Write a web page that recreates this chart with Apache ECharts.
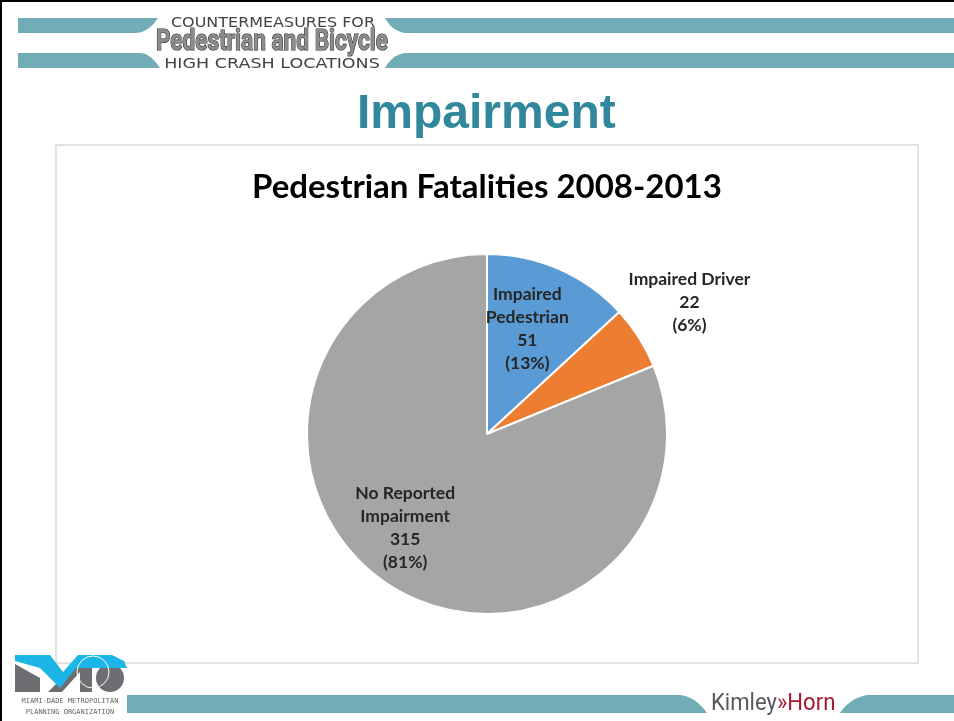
<!DOCTYPE html>
<html lang="en">
<head>
    <meta charset="UTF-8">
    <title>Impairment</title>
    <style>
        html, body {
            margin: 0;
            padding: 0;
            background: #fff;
        }

        #main {
            width: 954px;
            height: 721px;
        }
    </style>
</head>
<body>
<div id="main"></div>
<script src="https://cdn.jsdelivr.net/npm/echarts@6/dist/echarts.min.js"></script>
<script>
    // pie data, clockwise from 12 o'clock
    let categories = ['Impaired\nPedestrian', 'Impaired Driver', 'No Reported\nImpairment']
    let values = [51, 22, 315]
    let colors = ['#5b9bd5', '#ed7d31', '#a5a5a5']
    // label nudges from the default inside spot
    let labelShift = [[3, -20], [124, -82], [-30, 17]]

    const teal = '#72adb7'

    // straight points plus one quadratic curve, turned into a polygon outline
    function bar(before, p0, c, p1, after) {
        let pts = before.slice()
        for (let t = 0; t <= 1.0001; t += 0.1) {
            let u = 1 - t
            pts.push([u * u * p0[0] + 2 * u * t * c[0] + t * t * p1[0],
                u * u * p0[1] + 2 * u * t * c[1] + t * t * p1[1]])
        }
        return pts.concat(after)
    }

    let myChart = echarts.init(document.querySelector('#main'))

    let option = {
        animation: false,
        title: [
            {
                text: 'Impairment',
                left: 352,
                top: 86,
                textStyle: {
                    fontFamily: 'Liberation Sans',
                    fontWeight: 'bold',
                    fontSize: 48,
                    color: '#31879b'
                }
            },
            {
                text: 'Pedestrian Fatalities 2008-2013',
                left: 247,
                top: 166,
                textStyle: {
                    fontFamily: 'Lato',
                    fontWeight: 'bold',
                    fontSize: 33,
                    color: '#000'
                }
            }
        ],
        graphic: [
            // slide frame
            {type: 'rect', shape: {x: 0, y: 0, width: 954, height: 2}, style: {fill: '#000'}, z: 10},
            {type: 'rect', shape: {x: 0, y: 0, width: 2, height: 721}, style: {fill: '#000'}, z: 10},
            // chart box
            {
                type: 'rect', z: -10,
                shape: {x: 56, y: 145, width: 862, height: 518},
                style: {fill: '#fff', stroke: '#d9d9d9', lineWidth: 1.5}
            },
            // header bars
            {
                type: 'polygon',
                shape: {points: bar([[18, 18]], [158, 18], [148, 33], [135, 33], [[18, 33]])},
                style: {fill: teal}
            },
            {
                type: 'polygon',
                shape: {points: bar([[18, 53]], [140, 53], [150, 53], [160, 68], [[18, 68]])},
                style: {fill: teal}
            },
            {
                type: 'polygon',
                shape: {points: bar([[954, 18], [954, 33]], [405, 33], [392, 31], [385, 18], [])},
                style: {fill: teal}
            },
            {
                type: 'polygon',
                shape: {points: bar([[954, 68], [954, 53]], [405, 53], [392, 55], [385, 68], [])},
                style: {fill: teal}
            },
            {
                type: 'text', x: 273, y: 23, scaleX: 1.14,
                style: {
                    text: 'COUNTERMEASURES FOR', fill: '#444', font: '14px "DejaVu Sans"',
                    textAlign: 'center', textVerticalAlign: 'middle'
                }
            },
            {
                type: 'text', x: 272, y: 43, scaleX: 0.78,
                style: {
                    text: 'Pedestrian and Bicycle', fill: '#8c8c8c', stroke: '#2b2b2b', lineWidth: 1.2,
                    font: 'bold 29px Roboto',
                    textAlign: 'center', textVerticalAlign: 'middle'
                }
            },
            {
                type: 'text', x: 272, y: 64, scaleX: 1.25,
                style: {
                    text: 'HIGH CRASH LOCATIONS', fill: '#444', font: '14px "DejaVu Sans"',
                    textAlign: 'center', textVerticalAlign: 'middle'
                }
            },
            // footer bars
            {
                type: 'polygon',
                shape: {points: bar([[127, 713], [127, 695]], [680, 695], [696, 697], [707, 713], [])},
                style: {fill: teal}
            },
            {
                type: 'polygon',
                shape: {points: bar([[954, 713], [954, 695]], [867, 695], [850, 698], [840, 713], [])},
                style: {fill: teal}
            },
            {
                type: 'text', x: 711, y: 704, scaleX: 0.92,
                style: {
                    text: '{k|Kimley}{h|»Horn}', textVerticalAlign: 'middle',
                    rich: {
                        k: {fill: '#58595b', font: '24px Roboto'},
                        h: {fill: '#a6192e', font: '24px Roboto'}
                    }
                }
            },
            // MPO logo
            {
                type: 'polygon', z: 2,
                shape: {points: [[15, 664], [40, 678], [40, 692], [15, 692]]},
                style: {fill: '#6d6e71'}
            },
            {
                type: 'polygon', z: 2,
                shape: {points: [[48, 692], [62, 692], [80, 672], [80, 692], [92, 692], [92, 668], [72, 668]]},
                style: {fill: '#6d6e71'}
            },
            {
                type: 'circle', z: 2,
                shape: {cx: 110, cy: 678, r: 14},
                style: {fill: '#6d6e71'}
            },
            {
                type: 'polygon', z: 3,
                shape: {points: [[15, 655], [50, 655], [63, 672], [78, 655], [112, 655], [124, 661], [127, 668], [76, 668], [60, 688], [40, 668], [15, 661]]},
                style: {fill: '#1cb5e8'}
            },
            {
                type: 'circle', z: 4,
                shape: {cx: 93, cy: 672, r: 16},
                style: {fill: 'none', stroke: '#fff', lineWidth: 1}
            },
            {
                type: 'text', x: 70, y: 701,
                style: {
                    text: 'MIAMI-DADE METROPOLITAN', fill: '#666', font: '7px "DejaVu Sans Mono"',
                    textAlign: 'center', textVerticalAlign: 'middle'
                }
            },
            {
                type: 'text', x: 70, y: 712,
                style: {
                    text: 'PLANNING ORGANIZATION', fill: '#666', font: '7px "DejaVu Sans Mono"',
                    textAlign: 'center', textVerticalAlign: 'middle'
                }
            }
        ],
        series: [
            {
                type: 'pie',
                center: [487, 434],
                radius: [0, 180],
                startAngle: 90,
                clockwise: true,
                percentPrecision: 0,
                itemStyle: {
                    borderColor: '#fff',
                    borderWidth: 2
                },
                label: {
                    show: true,
                    position: 'inside',
                    formatter: '{b}\n{c}\n({d}%)',
                    fontFamily: 'Lato',
                    fontWeight: 'bold',
                    fontSize: 17.5,
                    lineHeight: 23,
                    color: '#262626',
                    align: 'center'
                },
                labelLine: {show: false},
                labelLayout: function (params) {
                    let s = labelShift[params.dataIndex]
                    return {dx: s[0], dy: s[1]}
                },
                emphasis: {disabled: true},
                data: categories.map((name, i) => ({
                    name: name,
                    value: values[i],
                    itemStyle: {color: colors[i]}
                }))
            }
        ]
    }
    myChart.setOption(option)
</script>
</body>
</html>
